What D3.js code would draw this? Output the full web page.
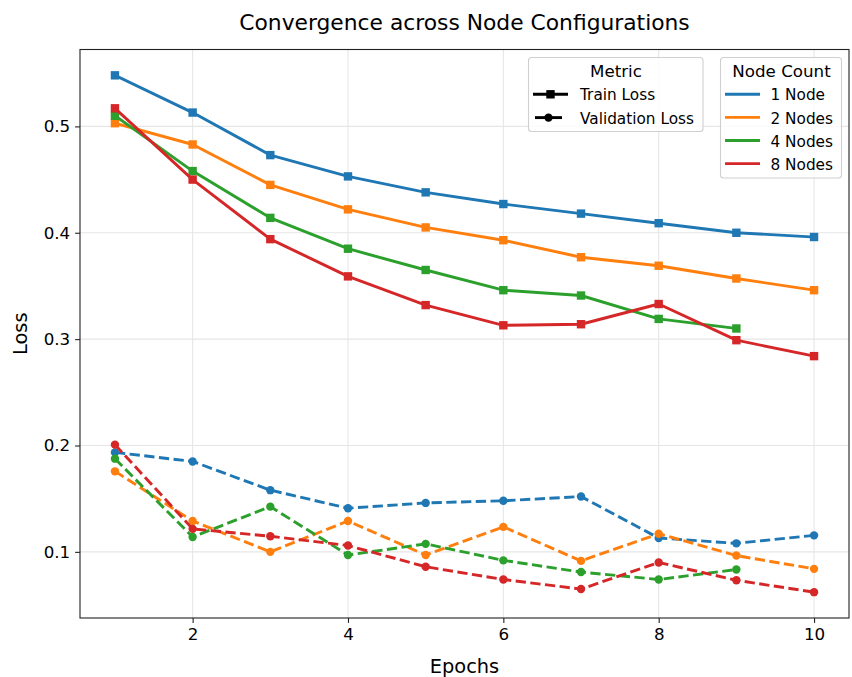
<!DOCTYPE html>
<html>
<head>
<meta charset="utf-8">
<script src="https://cdn.jsdelivr.net/npm/d3@7"></script>
<style>
  html, body { margin: 0; padding: 0; background: #fff; }
  svg { display: block; font-family: "DejaVu Sans", sans-serif; }
</style>
</head>
<body>
<svg id="chart" width="852" height="677"></svg>
<script>
// ---- data ----
const epochs = [1, 2, 3, 4, 5, 6, 7, 8, 9, 10];
const nodeLabels = ["1 Node", "2 Nodes", "4 Nodes", "8 Nodes"];
const nodeColors = ["#1f77b4", "#ff7f0e", "#2ca02c", "#d62728"];

const trainLoss1 = [0.548, 0.513, 0.473, 0.453, 0.438, 0.427, 0.418, 0.409, 0.400, 0.396];
const trainLoss2 = [0.503, 0.483, 0.445, 0.422, 0.405, 0.393, 0.377, 0.369, 0.357, 0.346];
const trainLoss4 = [0.510, 0.458, 0.414, 0.385, 0.365, 0.346, 0.341, 0.319, 0.310];
const trainLoss8 = [0.517, 0.450, 0.394, 0.359, 0.332, 0.313, 0.314, 0.333, 0.299, 0.284];

const valLoss1 = [0.1935, 0.185, 0.158, 0.141, 0.146, 0.148, 0.152, 0.113, 0.108, 0.1155];
const valLoss2 = [0.1757, 0.129, 0.100, 0.129, 0.097, 0.1235, 0.0915, 0.117, 0.0965, 0.084];
const valLoss4 = [0.1876, 0.114, 0.1425, 0.097, 0.1075, 0.092, 0.081, 0.074, 0.0834];
const valLoss8 = [0.2008, 0.1216, 0.1147, 0.1059, 0.086, 0.074, 0.065, 0.090, 0.0733, 0.0621];

const trainSeries = [trainLoss1, trainLoss2, trainLoss4, trainLoss8];
const valSeries = [valLoss1, valLoss2, valLoss4, valLoss8];

const xTicks = [2, 4, 6, 8, 10];
const yTicks = [0.1, 0.2, 0.3, 0.4, 0.5];
const metricLabels = ["Train Loss", "Validation Loss"];

// ---- layout ----
const svg = d3.select("#chart");
const L = 80, R = 849, T = 49.5, B = 618;

const xMin = d3.min(epochs), xMax = d3.max(epochs);
const xPad = (xMax - xMin) * 0.05;
const allVals = trainSeries.concat(valSeries).flat();
const yMin = d3.min(allVals), yMax = d3.max(allVals);
const yPad = (yMax - yMin) * 0.05;

const x = d3.scaleLinear().domain([xMin - xPad, xMax + xPad]).range([L, R]);
const y = d3.scaleLinear().domain([yMin - yPad, yMax + yPad]).range([B, T]);

// grid
const grid = svg.append("g");
grid.selectAll("line.gx").data(xTicks).join("line")
  .attr("x1", d => x(d)).attr("x2", d => x(d)).attr("y1", T).attr("y2", B)
  .attr("stroke", "#e6e6e6").attr("stroke-width", 1.1);
grid.selectAll("line.gy").data(yTicks).join("line")
  .attr("y1", d => y(d)).attr("y2", d => y(d)).attr("x1", L).attr("x2", R)
  .attr("stroke", "#e6e6e6").attr("stroke-width", 1.1);

// axes
const xAxis = d3.axisBottom(x).tickValues(xTicks).tickFormat(d3.format("d")).tickSize(4.9).tickPadding(4.9);
const yAxis = d3.axisLeft(y).tickValues(yTicks).tickFormat(d3.format(".1f")).tickSize(4.9).tickPadding(4.9);

const gx = svg.append("g").attr("transform", `translate(0,${B})`).call(xAxis);
const gy = svg.append("g").attr("transform", `translate(${L},0)`).call(yAxis);
[gx, gy].forEach(g => {
  g.select(".domain").remove();
  g.selectAll(".tick line").attr("stroke", "#222").attr("stroke-width", 1.1);
  g.selectAll(".tick text").attr("fill", "#000").attr("font-size", "16.7px").attr("font-family", "DejaVu Sans");
});

// series
const clip = svg.append("clipPath").attr("id", "clip").append("rect")
  .attr("x", L).attr("y", T).attr("width", R - L).attr("height", B - T);
const plot = svg.append("g").attr("clip-path", "url(#clip)");

const line = d3.line().x((d, i) => x(epochs[i])).y(d => y(d));
const ms = 8.4;
const lw = 2.9;

for (let k = 0; k < 4; k++) {
  const c = nodeColors[k];
  // train
  plot.append("path").datum(trainSeries[k]).attr("d", line)
    .attr("fill", "none").attr("stroke", c).attr("stroke-width", lw)
    .attr("stroke-linejoin", "round").attr("stroke-linecap", "square");
  plot.append("g").selectAll("rect").data(trainSeries[k]).join("rect")
    .attr("x", (d, i) => x(epochs[i]) - ms / 2).attr("y", d => y(d) - ms / 2)
    .attr("width", ms).attr("height", ms).attr("fill", c);
  // validation
  plot.append("path").datum(valSeries[k]).attr("d", line)
    .attr("fill", "none").attr("stroke", c).attr("stroke-width", lw)
    .attr("stroke-dasharray", "10.3,4.45").attr("stroke-linejoin", "round");
  plot.append("g").selectAll("circle").data(valSeries[k]).join("circle")
    .attr("cx", (d, i) => x(epochs[i])).attr("cy", d => y(d))
    .attr("r", ms / 2).attr("fill", c);
}

// spines
svg.append("rect").attr("x", L).attr("y", T).attr("width", R - L).attr("height", B - T)
  .attr("fill", "none").attr("stroke", "#222").attr("stroke-width", 1.1);

// title & labels
svg.append("text").attr("x", (L + R) / 2).attr("y", 30).attr("text-anchor", "middle")
  .attr("font-size", "21.8px").attr("fill", "#000").text("Convergence across Node Configurations");
svg.append("text").attr("x", (L + R) / 2).attr("y", 673).attr("text-anchor", "middle")
  .attr("font-size", "19.4px").attr("fill", "#000").text("Epochs");
svg.append("text").attr("transform", `translate(27,${(T + B) / 2}) rotate(-90)`).attr("text-anchor", "middle")
  .attr("font-size", "19.4px").attr("fill", "#000").text("Loss");

// legend: Metric
const lg1 = svg.append("g");
lg1.append("rect").attr("x", 528.5).attr("y", 57.5).attr("width", 174.5).attr("height", 74)
  .attr("rx", 3).attr("fill", "#fff").attr("fill-opacity", 0.8).attr("stroke", "#d0d0d0").attr("stroke-width", 1.1);
lg1.append("text").attr("x", 616).attr("y", 77.3).attr("text-anchor", "middle")
  .attr("font-size", "16.7px").attr("fill", "#000").text("Metric");
const mRows = lg1.selectAll("g.row").data(metricLabels).join("g")
  .attr("transform", (d, i) => `translate(0,${94.3 + i * 23.3})`);
mRows.append("line")
  .attr("x1", (d, i) => i === 0 ? 533 : 535).attr("x2", (d, i) => i === 0 ? 568 : 562)
  .attr("y1", 0).attr("y2", 0)
  .attr("stroke", "#000").attr("stroke-width", lw);
mRows.each(function (d, i) {
  const g = d3.select(this);
  if (i === 0) g.append("rect").attr("x", 550.5 - ms / 2).attr("y", -ms / 2).attr("width", ms).attr("height", ms).attr("fill", "#000");
  else g.append("circle").attr("cx", 548.5).attr("cy", 0).attr("r", ms / 2).attr("fill", "#000");
});
mRows.append("text").attr("x", 580).attr("y", 6.1).attr("font-size", "15.3px").attr("fill", "#000").text(d => d);

// legend: Node Count
const lg2 = svg.append("g");
lg2.append("rect").attr("x", 720.5).attr("y", 57.5).attr("width", 121).attr("height", 120.5)
  .attr("rx", 3).attr("fill", "#fff").attr("fill-opacity", 0.8).attr("stroke", "#d0d0d0").attr("stroke-width", 1.1);
lg2.append("text").attr("x", 781.5).attr("y", 77.3).attr("text-anchor", "middle")
  .attr("font-size", "16.7px").attr("fill", "#000").text("Node Count");
const nRows = lg2.selectAll("g.row").data(nodeLabels).join("g")
  .attr("transform", (d, i) => `translate(0,${94.3 + i * 23.1})`);
nRows.append("line").attr("x1", 725).attr("x2", 760).attr("y1", 0).attr("y2", 0)
  .attr("stroke", (d, i) => nodeColors[i]).attr("stroke-width", lw);
nRows.append("text").attr("x", 770.5).attr("y", 6.1).attr("font-size", "15.3px").attr("fill", "#000").text(d => d);
</script>
</body>
</html>
